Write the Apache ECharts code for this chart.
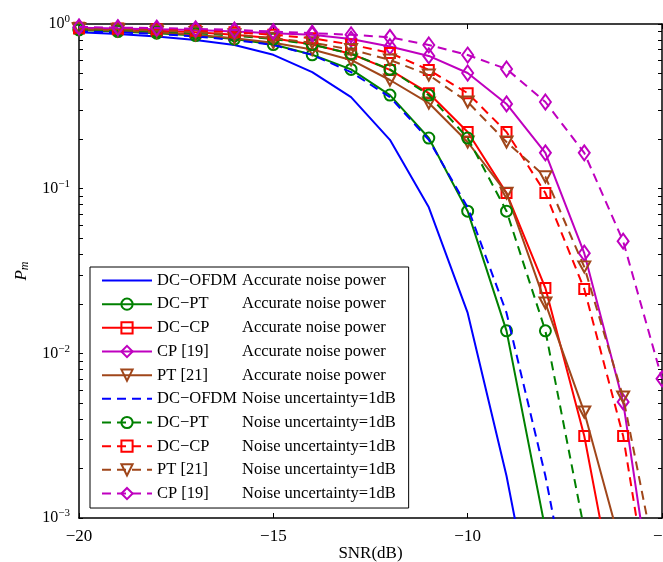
<!DOCTYPE html>
<html>
<head>
<meta charset="utf-8">
<script src="https://cdn.jsdelivr.net/npm/echarts@6/dist/echarts.min.js"></script>
<style>html,body{margin:0;padding:0;background:#fff}#c{width:663px;height:562px}</style>
</head>
<body>
<div id="c"></div>
<script>
const snr = [-20,-19,-18,-17,-16,-15,-14,-13,-12,-11,-10,-9,-8,-7,-6,-5];
const xTicks = [-20,-15,-10,-5];
const yMajor = [0.001,0.01,0.1,1];

const dcofdmAcc   = [0.89,0.87,0.84,0.80,0.745,0.65,0.51,0.36,0.198,0.077,0.0176,0.0018,0.00011,null,null,null];
const dcptAcc     = [0.92,0.90,0.88,0.85,0.81,0.75,0.65,0.53,0.37,0.203,0.073,0.0137,0.00085,null,null,null];
const dccpAcc     = [0.94,0.93,0.91,0.89,0.86,0.82,0.75,0.66,0.526,0.38,0.221,0.094,0.0249,0.00315,0.00018,null];
const cpAcc       = [0.95,0.94,0.93,0.92,0.90,0.88,0.86,0.81,0.73,0.64,0.504,0.327,0.165,0.0406,0.00507,0.00013];
const ptAcc       = [0.93,0.91,0.89,0.86,0.82,0.77,0.70,0.605,0.457,0.331,0.192,0.094,0.0202,0.0044,0.0006,null];
const dcofdmNoise = [0.90,0.89,0.87,0.84,0.80,0.745,0.65,0.51,0.36,0.198,0.077,0.0176,0.0018,0.00011,null,null];
const dcptNoise   = [0.93,0.92,0.90,0.88,0.85,0.81,0.75,0.66,0.53,0.37,0.203,0.073,0.0137,0.00085,null,null];
const dccpNoise   = [0.95,0.94,0.93,0.91,0.89,0.86,0.82,0.75,0.667,0.526,0.38,0.221,0.094,0.0246,0.00315,0.00011];
const ptNoise     = [0.94,0.93,0.91,0.89,0.86,0.82,0.77,0.70,0.605,0.49,0.336,0.192,0.118,0.0335,0.00543,0.00035];
const cpNoise     = [0.96,0.95,0.945,0.935,0.92,0.90,0.88,0.86,0.83,0.746,0.648,0.533,0.336,0.165,0.048,0.007];

const names = ['DC\u2212OFDM','DC\u2212PT','DC\u2212CP','CP [19]','PT [21]','DC\u2212OFDM','DC\u2212PT','DC\u2212CP','PT [21]','CP [19]'];
const descs = ['Accurate noise power','Accurate noise power','Accurate noise power','Accurate noise power','Accurate noise power',
  'Noise uncertainty=1dB','Noise uncertainty=1dB','Noise uncertainty=1dB','Noise uncertainty=1dB','Noise uncertainty=1dB'];
const values = [dcofdmAcc,dcptAcc,dccpAcc,cpAcc,ptAcc,dcofdmNoise,dcptNoise,dccpNoise,ptNoise,cpNoise];

const BLUE='#0000ff', GREEN='#008000', RED='#ff0000', MAG='#bf00bf', BROWN='#a0461a';
const styles = [
  {c:BLUE, sym:'none'},
  {c:GREEN, sym:'circle', size:11},
  {c:RED, sym:'rect', size:10},
  {c:MAG, sym:'diamond', size:[11,15]},
  {c:BROWN, sym:'triangle', size:[12,11], rot:180},
  {c:BLUE, sym:'none', dash:true},
  {c:GREEN, sym:'circle', size:11, dash:true},
  {c:RED, sym:'rect', size:10, dash:true},
  {c:BROWN, sym:'triangle', size:[12,11], rot:180, dash:true},
  {c:MAG, sym:'diamond', size:[11,15], dash:true}
];

const minorTicks = [];
for (let e=-3;e<0;e++){ for(let k=1;k<10;k++){ minorTicks.push(k*Math.pow(10,e)); } }
minorTicks.push(1);

const series = values.map((arr,i)=>{
  const s = styles[i];
  const noSym = s.sym === 'none';
  return {
    name: names[i] + '|' + descs[i],
    type: 'line',
    data: snr.map((x,j)=> arr[j]==null ? null : [x, arr[j]]).filter(d=>d),
    symbol: s.sym,
    symbolSize: s.size || 10,
    symbolRotate: s.rot || 0,
    showSymbol: !noSym,
    lineStyle: {color: s.c, width: 2, type: s.dash ? [9,6] : 'solid'},
    itemStyle: noSym ? {color: 'rgba(255,255,255,0)', borderColor: 'rgba(255,255,255,0)', borderWidth: 0}
                     : {color: 'rgba(255,255,255,0)', borderColor: s.c, borderWidth: 2},
    emphasis: {disabled: true},
    animation: false,
    clip: true,
    z: 2 + i
  };
});

const font = 'Liberation Serif, Times New Roman, serif';
const chart = echarts.init(document.getElementById('c'), null, {renderer:'canvas'});
chart.setOption({
  backgroundColor: '#fff',
  animation: false,
  grid: {left: 79, right: 1, top: 24, bottom: 44, containLabel: false, outerBoundsMode: 'none'},
  xAxis: [{
    type: 'value', min: -20, max: -5, interval: 5, position: 'bottom',
    axisLine: {show: true, onZero: false, lineStyle: {color: '#000', width: 1.5}},
    axisTick: {inside: true, length: 5, lineStyle: {color: '#000'}},
    axisLabel: {margin: 10, fontFamily: font, fontSize: 17, color: '#000', hideOverlap: false,
      showMaxLabel: true, showMinLabel: true,
      formatter: v => xTicks.includes(v) ? String(v).replace('-', '\u2212') : ''},
    splitLine: {show: false},
    name: 'SNR(dB)', nameLocation: 'middle', nameGap: 27, nameMoveOverlap: false,
    nameTextStyle: {fontFamily: font, fontSize: 17, color: '#000', verticalAlign: 'top'}
  },{
    type: 'value', min: -20, max: -5, interval: 5, position: 'top',
    axisLine: {show: true, onZero: false, lineStyle: {color: '#000', width: 1.5}},
    axisTick: {inside: true, length: 5, lineStyle: {color: '#000'}},
    axisLabel: {show: false}, splitLine: {show: false}
  }],
  yAxis: [{
    type: 'log', logBase: 10, min: 0.001, max: 1, position: 'left',
    axisLine: {show: true, onZero: false, lineStyle: {color: '#000', width: 1.5}},
    axisTick: {show: true, inside: true, length: 4, customValues: minorTicks, lineStyle: {color: '#000'}},
    axisLabel: {customValues: yMajor, margin: 9, color: '#000',
      formatter: v => '{b|10}{s|' + String(Math.round(Math.log10(v))).replace('-', '\u2212') + '}',
      rich: {b: {fontFamily: font, fontSize: 16, color: '#000', lineHeight: 18},
             s: {fontFamily: font, fontSize: 11, color: '#000', padding: [0,0,9,0], lineHeight: 18}}},
    splitLine: {show: false},
    name: '{p|P}{m|m}', nameLocation: 'middle', nameGap: 48, nameRotate: 90, nameMoveOverlap: false,
    nameTextStyle: {rich: {p: {fontFamily: font, fontSize: 17, fontStyle: 'italic', color: '#000'},
                           m: {fontFamily: font, fontSize: 12, fontStyle: 'italic', color: '#000', padding: [7,0,0,0]}}}
  },{
    type: 'log', logBase: 10, min: 0.001, max: 1, position: 'right',
    axisLine: {show: true, onZero: false, lineStyle: {color: '#000', width: 1.5}},
    axisTick: {show: true, inside: true, length: 4, customValues: minorTicks, lineStyle: {color: '#000'}},
    axisLabel: {show: false}, splitLine: {show: false}
  }],
  legend: {
    orient: 'vertical', left: 90, top: 267,
    backgroundColor: '#fff', borderColor: '#000', borderWidth: 1,
    padding: [5, 13, 6, 11],
    itemWidth: 50, itemHeight: 14, itemGap: 6.67,
    selectedMode: false,
    textStyle: {fontFamily: font, fontSize: 16.5, color: '#000', lineHeight: 16,
      rich: {a: {fontFamily: font, fontSize: 16.5, color: '#000', width: 85, lineHeight: 16},
             b: {fontFamily: font, fontSize: 16.5, color: '#000', lineHeight: 16}}},
    formatter: n => { const p = n.split('|'); return '{a|' + p[0] + '}{b|' + p[1] + '}'; },
    data: series.map(s => s.name)
  },
  series: series
});
</script>
</body>
</html>
